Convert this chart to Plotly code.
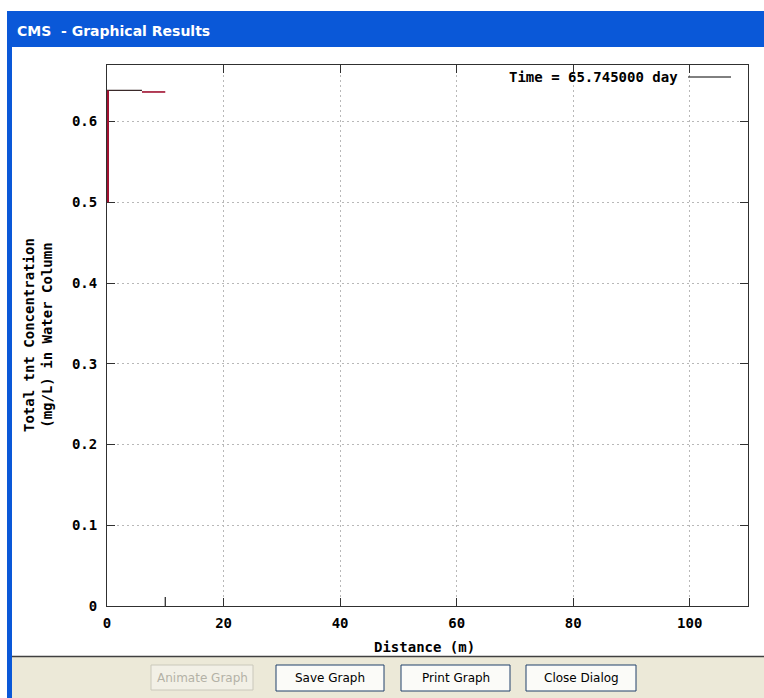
"""CMS graphical results window: concentration profile along the channel."""

import plotly.graph_objects as go

# --- data -------------------------------------------------------------
rise_x = [0, 0]
rise_y = [0.5, 0.6385]
head_x = [0, 6]
head_y = [0.6385, 0.6385]
tail_x = [6, 10]
tail_y = [0.6366, 0.6366]
marker_x = 10
marker_y = [-0.011, 0.011]
legend_label = "Time = 65.745000 day"

x_ticks = [0, 20, 40, 60, 80, 100]
y_ticks = [0, 0.1, 0.2, 0.3, 0.4, 0.5, 0.6]
x_range = [0, 110]
y_range = [0, 0.67]

buttons = ["Animate Graph", "Save Graph", "Print Graph", "Close Dialog"]

# --- geometry (window pixels) -----------------------------------------
W, H = 764, 698
PL, PR, PT, PB = 107, 748, 65, 606

MONO = "DejaVu Sans Mono"
UI = "DejaVu Sans"
RED = "#a01030"
XP_BLUE = "#0a58d8"
BEIGE = "#ece9d8"
MONO_FONT = dict(family=MONO, size=14, color="black", weight="bold")


def px(x):
    return (x - PL) / (PR - PL)


def py(y):
    return (PB - y) / (PB - PT)


def rect(x0, y0, x1, y1, fill, line=None, width=0, layer="below"):
    return dict(
        type="rect", xref="paper", yref="paper",
        x0=px(x0), x1=px(x1), y0=py(y0), y1=py(y1),
        fillcolor=fill, line=dict(color=line or fill, width=width),
        layer=layer,
    )


fig = go.Figure()
fig.add_trace(
    go.Scatter(
        x=head_x, y=head_y, mode="lines",
        line=dict(color="#3a2a2a", width=1.2), showlegend=False,
    )
)
fig.add_trace(
    go.Scatter(
        x=tail_x, y=tail_y, mode="lines",
        line=dict(color=RED, width=1.6), showlegend=False,
    )
)
fig.add_trace(
    go.Scatter(
        x=rise_x, y=rise_y, mode="lines",
        line=dict(color=RED, width=4), showlegend=False,
    )
)

shapes = [
    # window chrome
    rect(7, 11, W, 47, XP_BLUE),
    rect(7, 11, 12, H, XP_BLUE),
    rect(12, 47, W, 656, "white"),
    rect(12, 657, W, H, BEIGE),
    dict(type="line", xref="paper", yref="paper",
         x0=px(12), x1=px(W), y0=py(656.5), y1=py(656.5),
         line=dict(color="#404040", width=1.5)),
    # legend sample
    dict(type="line", xref="paper", yref="paper",
         x0=px(688), x1=px(731), y0=py(77), y1=py(77),
         line=dict(color="black", width=1)),
    # small marker at x = 10
    dict(type="line", xref="x", yref="y",
         x0=marker_x, x1=marker_x, y0=marker_y[0], y1=marker_y[1],
         line=dict(color="#202020", width=1.2)),
]

annotations = [
    dict(text="<b>CMS  - Graphical Results</b>", xref="paper", yref="paper",
         x=px(15), y=py(31), xanchor="left", yanchor="middle",
         showarrow=False, font=dict(family=UI, size=14, color="white")),
    dict(text=legend_label, xref="paper", yref="paper",
         x=px(680), y=py(77), xanchor="right", yanchor="middle",
         showarrow=False, font=MONO_FONT),
    dict(text="Distance (m)", xref="paper", yref="paper",
         x=px(424), y=py(647), xanchor="center", yanchor="middle",
         showarrow=False, font=MONO_FONT),
    dict(text="Total tnt Concentration<br>(mg/L) in Water Column",
         xref="paper", yref="paper", x=px(38), y=py(335),
         xanchor="center", yanchor="middle", textangle=-90,
         showarrow=False, font=MONO_FONT),
]

# dialog buttons
button_boxes = [(151, 665, 253, 690), (276, 665, 384, 691),
                (401, 665, 510, 691), (526, 665, 636, 691)]
for label, (x0, y0, x1, y1) in zip(buttons, button_boxes):
    disabled = label == "Animate Graph"
    shapes.append(rect(x0, y0, x1, y1,
                       "#f2f0e6" if disabled else "#fbfbf8",
                       line="#cac8bb" if disabled else "#20406a",
                       width=1, layer="above"))
    annotations.append(
        dict(text=label, xref="paper", yref="paper",
             x=px((x0 + x1) / 2), y=py((y0 + y1) / 2),
             xanchor="center", yanchor="middle", showarrow=False,
             font=dict(family=UI, size=12,
                       color="#b4b2a6" if disabled else "black"))
    )

axis_common = dict(
    showline=True, linecolor="#303030", linewidth=1, mirror="allticks",
    ticks="inside", ticklen=8, tickcolor="#303030", tickwidth=1,
    showgrid=True, gridcolor="#b8b8b8", gridwidth=1, griddash="2px,3px",
    zeroline=False, layer="below traces",
    tickfont=MONO_FONT,
)

fig.update_layout(
    width=W, height=H,
    margin=dict(l=PL, r=W - PR, t=PT, b=H - PB),
    paper_bgcolor="white", plot_bgcolor="white",
    showlegend=False,
    xaxis=dict(range=x_range, tickvals=x_ticks, ticklabelstandoff=4,
               **axis_common),
    yaxis=dict(range=y_range, tickvals=y_ticks, ticklabelstandoff=6,
               **axis_common),
    shapes=shapes,
    annotations=annotations,
)

fig.write_html(
    "out.html",
    config={"displayModeBar": False},
    post_script="document.body.style.margin='0';"
                "document.body.style.overflow='hidden';",
)
